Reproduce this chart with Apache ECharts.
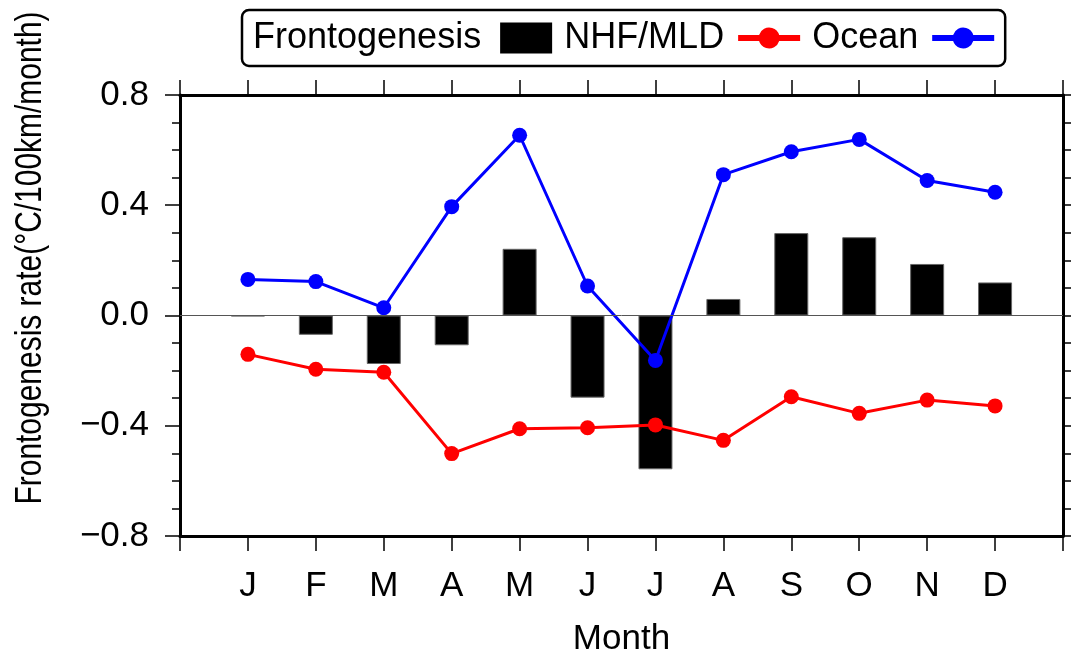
<!DOCTYPE html>
<html>
<head>
<meta charset="utf-8">
<script src="https://cdn.jsdelivr.net/npm/echarts@6/dist/echarts.min.js"></script>
<style>
  html, body { margin: 0; padding: 0; background: #fff; }
  #chart { width: 1071px; height: 661px; }
</style>
</head>
<body>
<div id="chart"></div>
<script>
// Monthly frontogenesis terms (°C/100km/month)
const months = ['J', 'F', 'M', 'A', 'M', 'J', 'J', 'A', 'S', 'O', 'N', 'D'];
const frontogenesis = [-0.003, -0.070, -0.176, -0.108, 0.242, -0.298, -0.558, 0.060, 0.299, 0.284, 0.187, 0.120];
const nhfMld = [-0.141, -0.195, -0.206, -0.501, -0.411, -0.407, -0.397, -0.453, -0.295, -0.355, -0.307, -0.328];
const ocean = [0.131, 0.123, 0.028, 0.395, 0.654, 0.107, -0.163, 0.511, 0.594, 0.639, 0.490, 0.447];
const yTicks = [-0.8, -0.4, 0.0, 0.4, 0.8];

const FONT = '"Liberation Sans", Arial, Helvetica, sans-serif';

// month index 1..12 on a 0..13 value axis
const pairs = arr => arr.map((v, i) => [i + 1, v]);

// legend icon: thick line with a dot in the middle
const lineDotIcon = 'path://M0 12.5H20.94A10.5 10.5 0 0 1 41.06 12.5H62V18.5H41.06A10.5 10.5 0 0 1 20.94 18.5H0Z';
const barIcon = 'path://M0 0H52V31H0Z';

const fmtY = v => {
  const r = Math.round(v * 10) / 10;
  return (r < 0 ? '\u2212' : '') + Math.abs(r).toFixed(1);
};

const chart = echarts.init(document.getElementById('chart'), null, { renderer: 'canvas' });

const baseX = {
  type: 'value', min: 0, max: 13, interval: 1,
  axisLine: { show: true, onZero: false, lineStyle: { color: '#000', width: 3 } },
  axisTick: { show: true, length: 15, lineStyle: { color: '#000', width: 1.5 } },
  splitLine: { show: false }
};

chart.setOption({
  animation: false,
  backgroundColor: '#fff',
  grid: { left: 180, right: 8, top: 95, bottom: 125, containLabel: false, outerBoundsMode: 'none' },
  legend: {
    left: 242, top: 10,
    orient: 'horizontal',
    align: 'right',
    padding: [10, 11, 10, 11],
    itemGap: 12,
    itemWidth: 62, itemHeight: 31,
    borderColor: '#000', borderWidth: 2.5, borderRadius: 7,
    backgroundColor: '#fff',
    selectedMode: false,
    itemStyle: { borderWidth: 0 },
    textStyle: { fontFamily: FONT, fontSize: 36, color: '#000', padding: [0, 9, 0, 0] },
    data: [
      { name: 'Frontogenesis', icon: barIcon },
      { name: 'NHF/MLD', icon: lineDotIcon },
      { name: 'Ocean', icon: lineDotIcon }
    ]
  },
  xAxis: [
    Object.assign({}, baseX, {
      position: 'bottom',
      name: 'Month', nameLocation: 'middle', nameGap: 86,
      nameTextStyle: { fontFamily: FONT, fontSize: 35, color: '#000' },
      axisLabel: {
        show: true, margin: 33, fontFamily: FONT, fontSize: 35, color: '#000',
        formatter: v => (v >= 1 && v <= 12) ? months[v - 1] : ''
      }
    }),
    Object.assign({}, baseX, { position: 'top', axisLabel: { show: false } })
  ],
  yAxis: [
    {
      type: 'value', position: 'left', min: yTicks[0], max: yTicks[yTicks.length - 1], interval: 0.4,
      axisLine: { show: true, onZero: false, lineStyle: { color: '#000', width: 3 } },
      axisTick: { show: true, length: 15, lineStyle: { color: '#000', width: 1.5 } },
      minorTick: { show: true, splitNumber: 4, length: 8, lineStyle: { color: '#000', width: 1.5 } },
      splitLine: { show: false },
      axisLabel: { margin: 31, fontFamily: FONT, fontSize: 35, color: '#000', formatter: fmtY }
    },
    {
      type: 'value', position: 'right', min: -0.8, max: 0.8, interval: 0.1,
      axisLine: { show: true, onZero: false, lineStyle: { color: '#000', width: 3 } },
      axisTick: { show: true, length: 8, lineStyle: { color: '#000', width: 1.5 } },
      splitLine: { show: false },
      axisLabel: { show: false }
    }
  ],
  graphic: [
    {
      type: 'text', x: 31, y: 258, rotation: Math.PI / 2, scaleX: 0.832,
      silent: true,
      style: {
        text: 'Frontogenesis rate(°C/100km/month)',
        font: '36px ' + FONT, fill: '#000',
        align: 'center', verticalAlign: 'middle'
      }
    }
  ],
  series: [
    {
      name: 'Frontogenesis', type: 'bar', xAxisIndex: 0, yAxisIndex: 0,
      data: pairs(frontogenesis), barWidth: 34, z: 2,
      itemStyle: { color: '#000', borderColor: '#666', borderWidth: 1 },
      markLine: {
        silent: true, symbol: 'none', label: { show: false },
        lineStyle: { color: '#555', width: 1, type: 'solid' },
        data: [{ yAxis: 0 }]
      }
    },
    {
      name: 'NHF/MLD', type: 'line', xAxisIndex: 0, yAxisIndex: 0,
      data: pairs(nhfMld), z: 3,
      symbol: 'circle', symbolSize: 15,
      lineStyle: { color: '#ff0000', width: 3 },
      itemStyle: { color: '#ff0000', borderWidth: 0 }
    },
    {
      name: 'Ocean', type: 'line', xAxisIndex: 0, yAxisIndex: 0,
      data: pairs(ocean), z: 3,
      symbol: 'circle', symbolSize: 15,
      lineStyle: { color: '#0000ff', width: 3 },
      itemStyle: { color: '#0000ff', borderWidth: 0 }
    }
  ]
});
</script>
</body>
</html>
